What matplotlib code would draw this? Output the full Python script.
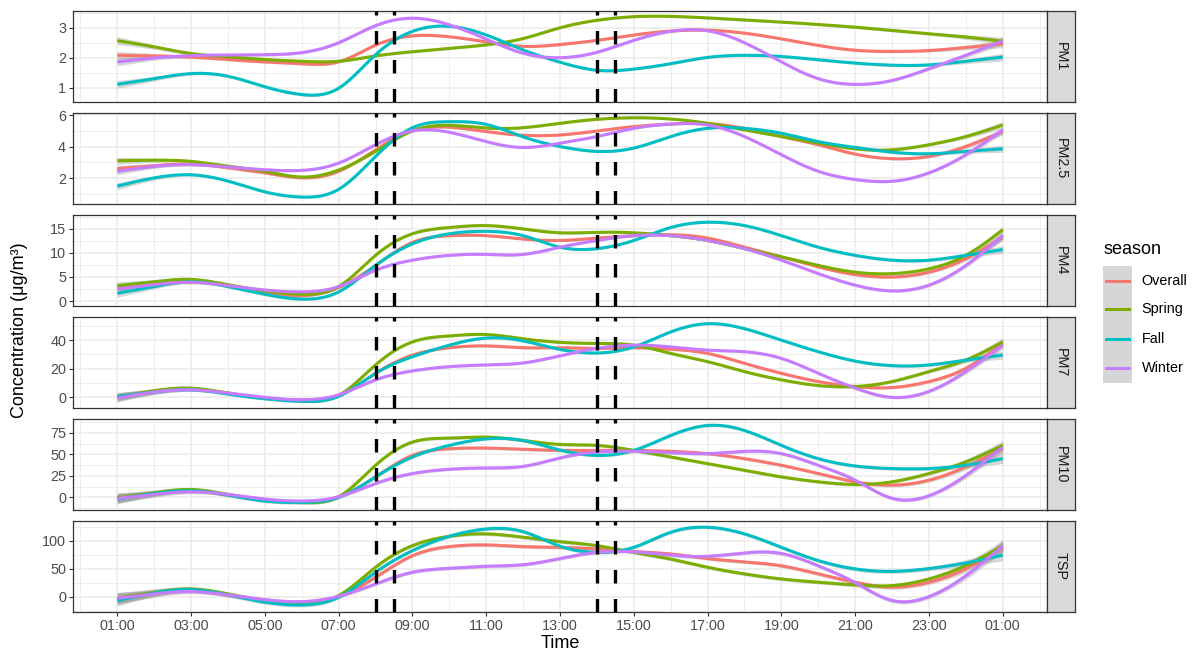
import numpy as np
import matplotlib
matplotlib.use("Agg")
import matplotlib.pyplot as plt
from matplotlib.patches import Rectangle
from matplotlib.lines import Line2D

plt.rcParams['font.family'] = ['Liberation Sans', 'DejaVu Sans']

# hours of the day, 1 = 01:00 ... 25 = 01:00 next day
hours = list(range(1, 26))
tick_hours = list(range(1, 26, 2))
tick_labels = ["01:00", "03:00", "05:00", "07:00", "09:00", "11:00", "13:00",
               "15:00", "17:00", "19:00", "21:00", "23:00", "01:00"]
rush_hours = [8.0, 8.5, 14.0, 14.5]

seasons = ["Overall", "Spring", "Fall", "Winter"]
colors = ["#F8766D", "#7CAE00", "#00BFC4", "#C77CFF"]

pollutants = ["PM1", "PM2.5", "PM4", "PM7", "PM10", "TSP"]

pm1 = {
    "Overall": [2.08, 2.06, 2.02, 1.94, 1.86, 1.80, 1.86, 2.42, 2.73, 2.70, 2.53, 2.38, 2.44,
                2.58, 2.76, 2.89, 2.92, 2.82, 2.63, 2.41, 2.25, 2.21, 2.24, 2.34, 2.46],
    "Spring": [2.57, 2.36, 2.14, 2.03, 1.94, 1.88, 1.88, 2.06, 2.20, 2.31, 2.43, 2.64, 3.00,
               3.25, 3.37, 3.38, 3.33, 3.26, 3.19, 3.11, 3.02, 2.91, 2.80, 2.69, 2.55],
    "Fall": [1.11, 1.30, 1.47, 1.38, 1.03, 0.77, 0.98, 2.10, 2.88, 3.05, 2.76, 2.26, 1.85,
             1.58, 1.62, 1.80, 2.01, 2.08, 2.04, 1.93, 1.82, 1.75, 1.76, 1.88, 2.02],
    "Winter": [1.86, 1.99, 2.07, 2.09, 2.10, 2.17, 2.50, 3.07, 3.32, 3.10, 2.62, 2.15, 2.00,
               2.18, 2.58, 2.88, 2.90, 2.50, 1.86, 1.30, 1.11, 1.24, 1.63, 2.08, 2.56],
}
pm25 = {
    "Overall": [2.61, 2.80, 2.90, 2.66, 2.34, 2.03, 2.44, 3.80, 5.00, 5.23, 4.95, 4.72, 4.74,
                4.99, 5.27, 5.43, 5.46, 5.16, 4.64, 4.12, 3.53, 3.24, 3.38, 4.01, 4.95],
    "Spring": [3.11, 3.14, 3.07, 2.76, 2.44, 2.08, 2.52, 3.70, 5.00, 5.35, 5.18, 5.20, 5.48,
               5.73, 5.83, 5.75, 5.48, 5.06, 4.64, 4.22, 3.86, 3.80, 4.12, 4.64, 5.37],
    "Fall": [1.50, 2.02, 2.22, 1.82, 1.14, 0.81, 1.30, 3.38, 5.20, 5.58, 5.41, 4.62, 4.01,
             3.70, 3.91, 4.64, 5.16, 5.16, 4.85, 4.32, 3.95, 3.65, 3.55, 3.70, 3.86],
    "Winter": [2.44, 2.75, 2.86, 2.71, 2.54, 2.50, 2.96, 4.12, 5.00, 4.91, 4.32, 3.95, 4.22,
               4.64, 5.16, 5.43, 5.37, 4.64, 3.49, 2.44, 1.92, 1.81, 2.34, 3.49, 5.06],
}
pm4 = {
    "Overall": [2.6, 3.6, 4.1, 3.2, 1.9, 1.1, 2.8, 7.4, 12.2, 13.6, 13.6, 12.9, 12.6,
                13.1, 13.6, 13.8, 13.1, 11.2, 9.2, 7.1, 5.5, 5.0, 6.0, 8.8, 13.3],
    "Spring": [3.2, 4.0, 4.5, 3.4, 2.1, 1.4, 3.0, 9.5, 14.0, 15.3, 15.7, 15.0, 14.2,
               14.3, 14.2, 13.6, 12.6, 10.9, 9.2, 7.4, 6.0, 5.7, 6.7, 9.5, 14.8],
    "Fall": [1.6, 3.0, 4.0, 3.0, 1.4, 0.4, 1.9, 7.4, 11.9, 14.0, 14.5, 13.6, 11.2,
             10.9, 12.6, 15.3, 16.4, 15.7, 13.6, 11.2, 9.5, 8.5, 8.5, 9.5, 10.7],
    "Winter": [2.5, 3.4, 3.9, 3.2, 2.3, 1.9, 3.0, 6.4, 8.5, 9.5, 9.7, 9.7, 11.2,
               12.6, 13.6, 13.6, 12.6, 10.9, 8.5, 5.7, 3.3, 2.1, 3.3, 7.4, 13.6],
}
pm7 = {
    "Overall": [0.0, 4.0, 5.6, 2.8, -0.7, -2.3, 1.2, 16.7, 29.5, 34.7, 36.0, 34.7, 34.7,
                34.2, 34.7, 33.7, 30.7, 23.7, 16.7, 10.9, 7.4, 6.7, 10.9, 20.2, 37.7],
    "Spring": [0.0, 4.4, 6.3, 2.8, -0.7, -2.6, 1.2, 22.6, 38.8, 43.0, 44.0, 41.0, 38.5,
               37.7, 36.5, 30.7, 24.9, 17.9, 12.1, 8.1, 7.4, 10.9, 17.9, 26.0, 38.8],
    "Fall": [0.5, 3.5, 5.1, 2.1, -1.2, -3.0, 0.5, 16.7, 28.4, 36.5, 41.5, 39.5, 33.5,
             31.0, 35.3, 45.8, 51.6, 48.1, 40.0, 31.9, 25.3, 22.1, 22.6, 26.0, 29.5],
    "Winter": [-0.7, 3.5, 5.1, 2.8, -0.2, -1.9, 1.6, 12.1, 18.4, 21.4, 22.6, 24.0, 29.0,
               34.2, 36.5, 35.3, 33.0, 31.9, 27.2, 16.7, 6.3, -0.2, 4.0, 17.9, 36.5],
}
pm10 = {
    "Overall": [-0.4, 4.6, 7.7, 2.7, -3.0, -5.0, 0.8, 23.8, 48.8, 56.5, 57.3, 55.8, 54.6,
                54.6, 54.6, 53.5, 50.8, 45.0, 37.3, 27.7, 18.1, 14.2, 20.0, 35.4, 56.5],
    "Spring": [-0.4, 5.4, 9.2, 3.5, -3.0, -5.8, 0.8, 37.3, 64.2, 68.8, 70.0, 66.2, 61.5,
               60.4, 54.6, 46.9, 39.2, 31.5, 23.8, 18.1, 15.0, 18.1, 27.7, 41.2, 60.4],
    "Fall": [-1.9, 4.6, 7.7, 2.7, -4.2, -5.8, 0.0, 23.8, 46.9, 60.4, 68.0, 66.0, 55.0,
             48.8, 54.6, 71.9, 83.5, 77.7, 60.4, 45.0, 36.5, 33.5, 33.5, 37.3, 45.0],
    "Winter": [-1.2, 3.5, 6.5, 3.5, -1.9, -4.2, 0.8, 16.2, 27.7, 32.7, 34.2, 36.0, 45.8,
               52.7, 53.5, 51.9, 50.8, 53.5, 50.8, 37.3, 20.0, -1.0, 2.0, 25.4, 58.5],
}
tsp = {
    "Overall": [-3.0, 6.5, 10.7, 3.0, -7.0, -11.3, 0.6, 34.5, 73.0, 89.3, 92.3, 89.3, 88.0,
                85.0, 80.4, 76.2, 68.0, 62.0, 55.0, 40.5, 25.6, 16.7, 25.6, 49.4, 88.0],
    "Spring": [-3.0, 7.7, 13.7, 4.8, -7.0, -12.0, 1.8, 52.4, 91.0, 107.7, 112.0, 106.0, 98.2,
               91.0, 79.0, 67.0, 52.4, 40.5, 31.5, 25.6, 20.8, 19.6, 31.5, 55.4, 91.0],
    "Fall": [-7.0, 6.5, 12.5, 3.0, -10.0, -14.9, -1.2, 43.5, 82.1, 107.7, 120.8, 116.0, 90.0,
             79.0, 88.0, 114.9, 123.8, 112.0, 88.0, 64.3, 49.4, 45.0, 50.0, 60.0, 74.0],
    "Winter": [-3.0, 4.8, 9.0, 3.0, -5.4, -9.0, 0.6, 22.6, 43.5, 50.6, 54.2, 57.0, 68.0,
               79.0, 80.0, 74.0, 72.0, 78.0, 77.0, 55.0, 25.0, -7.0, 0.0, 37.0, 91.0],
}
panel_data = [pm1, pm25, pm4, pm7, pm10, tsp]

# half width of the confidence band at the day's ends, and its relative shape
band_end = [0.13, 0.22, 0.8, 2.8, 5.5, 10.0]
band_shape = [1.0, 0.6, 0.4, 0.35, 0.35, 0.35, 0.3, 0.3, 0.3, 0.3, 0.3, 0.3, 0.3,
              0.3, 0.3, 0.3, 0.3, 0.3, 0.3, 0.3, 0.35, 0.35, 0.4, 0.6, 1.0]

# axis setup per panel
y_limits = [(0.52, 3.56), (0.37, 6.13), (-1.04, 17.9), (-7.7, 56.3), (-14.6, 91.0), (-27.5, 135.0)]
y_major = [[1, 2, 3], [2, 4, 6], [0, 5, 10, 15], [0, 20, 40], [0, 25, 50, 75], [0, 50, 100]]
y_minor = [[1.5, 2.5, 3.5], [1, 3, 5], [2.5, 7.5, 12.5, 17.5], [10, 30, 50],
           [-12.5, 12.5, 37.5, 62.5, 87.5], [-25, 25, 75, 125]]

TICK_SIZE = 10.4
TITLE_SIZE = 13


def smooth(x, y, xs):
    # natural cubic spline through the read points
    x = np.asarray(x, float)
    y = np.asarray(y, float)
    n = len(x)
    h = np.diff(x)
    A = np.zeros((n, n))
    r = np.zeros(n)
    A[0, 0] = A[-1, -1] = 1
    for i in range(1, n - 1):
        A[i, i - 1] = h[i - 1]
        A[i, i] = 2 * (h[i - 1] + h[i])
        A[i, i + 1] = h[i]
        r[i] = 3 * ((y[i + 1] - y[i]) / h[i] - (y[i] - y[i - 1]) / h[i - 1])
    c = np.linalg.solve(A, r)
    b = (y[1:] - y[:-1]) / h - h * (2 * c[:-1] + c[1:]) / 3
    d = (c[1:] - c[:-1]) / (3 * h)
    idx = np.clip(np.searchsorted(x, xs) - 1, 0, n - 2)
    dx = xs - x[idx]
    return y[idx] + b[idx] * dx + c[idx] * dx ** 2 + d[idx] * dx ** 3


W, H = 1198, 654
fig = plt.figure(figsize=(W / 100, H / 100), dpi=100)


def rect(x0, y0, x1, y1):
    return [x0 / W, 1 - y1 / H, (x1 - x0) / W, (y1 - y0) / H]


left, right = 73, 1047
tops = [11, 113, 215, 317, 419, 521]
ph = 91
xs = np.linspace(hours[0], hours[-1], 400)

for k, name in enumerate(pollutants):
    ax = fig.add_axes(rect(left, tops[k], right, tops[k] + ph))
    ax.set_xlim(-0.2, 26.2)
    ax.set_ylim(*y_limits[k])
    ax.set_xticks(tick_hours)
    ax.set_xticks(list(range(0, 27, 2)), minor=True)
    ax.set_yticks(y_major[k])
    ax.set_yticks(y_minor[k], minor=True)
    ax.grid(which="major", color="#EBEBEB", lw=1.1, zorder=0)
    ax.grid(which="minor", color="#EBEBEB", lw=0.6, zorder=0)
    ax.set_axisbelow(True)
    for s in ax.spines.values():
        s.set_color("#333333")
        s.set_linewidth(0.9)
    ax.tick_params(axis="y", which="major", length=3, width=0.8, color="#333333",
                   labelsize=TICK_SIZE, labelcolor="#4D4D4D", pad=2)
    ax.tick_params(which="minor", length=0)
    if k == len(pollutants) - 1:
        ax.set_xticklabels(tick_labels)
        ax.tick_params(axis="x", which="major", length=3, width=0.8, color="#333333",
                       labelsize=TICK_SIZE, labelcolor="#4D4D4D", pad=2)
    else:
        ax.tick_params(axis="x", which="major", length=0, labelbottom=False)

    band = band_end[k] * smooth(hours, band_shape, xs)
    for season, col in zip(seasons, colors):
        ys = smooth(hours, panel_data[k][season], xs)
        ax.fill_between(xs, ys - band, ys + band, color="#999999", alpha=0.4, lw=0, zorder=2)
        ax.plot(xs, ys, color=col, lw=2.2, solid_capstyle="butt", zorder=3)

    for t in rush_hours:
        ax.axvline(t, color="black", lw=2.4, linestyle=(0, (4.05, 4.65)), zorder=4)

    # facet strip on the right
    sax = fig.add_axes(rect(right, tops[k], 1075, tops[k] + ph))
    sax.set_xticks([])
    sax.set_yticks([])
    sax.set_facecolor("#D9D9D9")
    for s in sax.spines.values():
        s.set_color("#333333")
        s.set_linewidth(0.9)
    sax.text(0.5, 0.5, name, rotation=-90, ha="center", va="center",
             fontsize=TICK_SIZE, color="#1A1A1A", transform=sax.transAxes)

# axis titles
fig.text(20 / W, 1 - 330 / H, "Concentration (μg/m³)", rotation=90,
         ha="center", va="center", fontsize=TITLE_SIZE)
fig.text(560 / W, 1 - 644 / H, "Time", ha="center", va="center", fontsize=TITLE_SIZE)

# legend
lax = fig.add_axes([0, 0, 1, 1], facecolor="none")
lax.set_xlim(0, W)
lax.set_ylim(H, 0)
lax.axis("off")
lax.text(1103, 250, "season", ha="left", va="center", fontsize=TITLE_SIZE)
lax.add_patch(Rectangle((1103, 265.7), 29, 117, facecolor="#D6D6D6", edgecolor="none"))
key_y = [280.7, 309.3, 338.7, 368.3]
for season, col, ky in zip(seasons, colors, key_y):
    lax.add_line(Line2D([1106, 1129], [ky, ky], color=col, lw=2.2))
    lax.text(1141.5, ky, season, ha="left", va="center", fontsize=TICK_SIZE, color="black")

fig.savefig("out.png", dpi=100)
